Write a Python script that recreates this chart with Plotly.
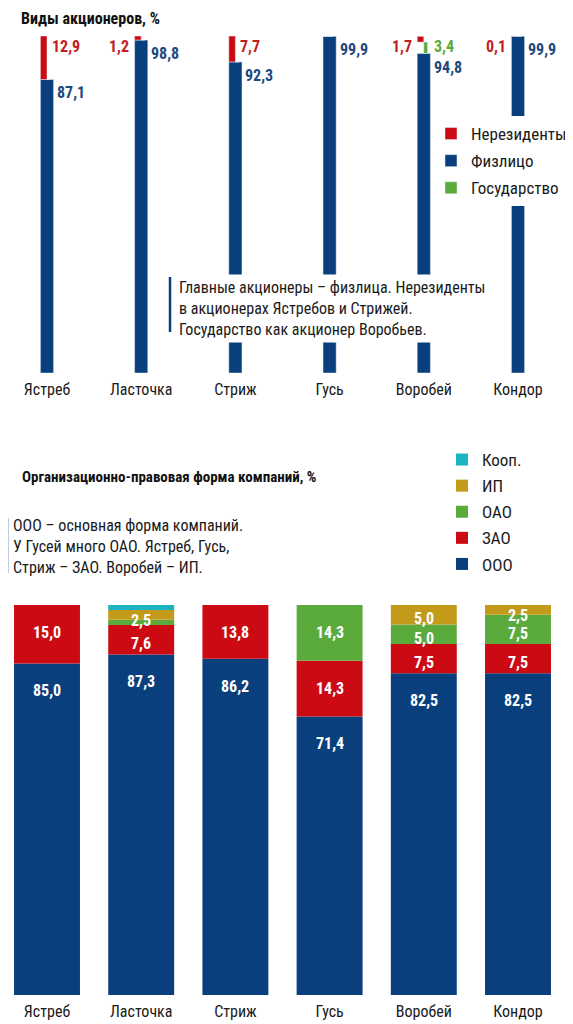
import plotly.graph_objects as go

birds = ["Ястреб", "Ласточка", "Стриж", "Гусь", "Воробей", "Кондор"]

# Виды акционеров, %
nonres = [12.9, 1.2, 7.7, 0, 1.7, 0.1]
fiz = [87.1, 98.8, 92.3, 99.9, 94.8, 99.9]
gov = [0, 0, 0, 0, 3.4, 0]

# Организационно-правовая форма компаний, %
ooo = [85.0, 87.3, 86.2, 71.4, 82.5, 82.5]
zao = [15.0, 7.6, 13.8, 14.3, 7.5, 7.5]
oao = [0, 1.3, 0, 14.3, 5.0, 7.5]
ip = [0, 2.5, 0, 0, 5.0, 2.5]
coop = [0, 1.3, 0, 0, 0, 0]

BLUE = "#0a3f7d"
RED = "#cc0a14"
GREEN = "#5aab3c"
GOLD = "#c49a1a"
CYAN = "#1db4c2"
FONT = "Roboto Condensed, Roboto, sans-serif"

# страница сдвигает рисунок на 8px (отступ body), поэтому считаем от экрана
OFF = 8
W, H = 573 - OFF, 1024 - OFF


def px(x, y):
    return (x - OFF) / W, 1 - (y - OFF) / H


def fmt(v):
    return f"{v:.1f}".replace(".", ",")


fig = go.Figure()

# ---- верхний график: виды акционеров
fig.add_trace(go.Bar(x=birds, y=fiz, width=0.14, offset=-0.07, marker_color=BLUE,
                     name="Физлицо", legend="legend", legendrank=2, legendgroup="fiz",
                     xaxis="x", yaxis="y"))
fig.add_trace(go.Bar(x=birds, y=nonres, base=[f + g for f, g in zip(fiz, gov)],
                     width=0.07, offset=-0.07, marker_color=RED,
                     name="Нерезиденты", legend="legend", legendrank=1, legendgroup="nonres",
                     xaxis="x", yaxis="y"))
fig.add_trace(go.Bar(x=birds, y=gov, base=fiz, width=0.04, offset=0,
                     marker_color=GREEN, name="Государство", legend="legend",
                     legendrank=3, legendgroup="gov", xaxis="x", yaxis="y"))

# ---- нижний график: организационно-правовая форма
forms = [("ООО", ooo, BLUE), ("ЗАО", zao, RED), ("ОАО", oao, GREEN),
         ("ИП", ip, GOLD), ("Кооп.", coop, CYAN)]
base = [0.0] * len(birds)
ann = []
for k, (name, vals, col) in enumerate(forms):
    fig.add_trace(go.Bar(x=birds, y=vals, base=base[:], width=0.7, marker_color=col,
                         marker_line_width=0, name=name, legend="legend2", legendgroup=name,
                         legendrank=len(forms) - k, xaxis="x2", yaxis="y2"))
    for i, v in enumerate(vals):
        if v >= 2:
            top = base[i] + v
            ann.append(dict(x=birds[i], y=top - max(min(v / 2 + 1, 7), 2.8),
                            xref="x2", yref="y2",
                            text=f"<b>{fmt(v)}</b>", showarrow=False,
                            font=dict(family=FONT, size=16, color="white")))
    base = [b + v for b, v in zip(base, vals)]

# подписи верхнего графика
for i, b in enumerate(birds):
    total = fiz[i] + gov[i] + nonres[i]
    ann.append(dict(x=b, y=fiz[i], xref="x", yref="y", text=f"<b>{fmt(fiz[i])}</b>",
                    showarrow=False, xanchor="left", yanchor="top", xshift=8, yshift=-2,
                    font=dict(family=FONT, size=16, color="#1d4a7e")))
    if nonres[i] > 0:
        right = nonres[i] >= 5
        ann.append(dict(x=b, y=total, xref="x", yref="y", text=f"<b>{fmt(nonres[i])}</b>",
                        showarrow=False, xanchor="left" if right else "right",
                        yanchor="top", xshift=3 if right else -10, yshift=1,
                        font=dict(family=FONT, size=16, color="#c41c24")))
    if gov[i] > 0:
        ann.append(dict(x=b, y=total, xref="x", yref="y",
                        text=f"<b>{fmt(gov[i])}</b>", showarrow=False,
                        xanchor="left", yanchor="top", xshift=8, yshift=1,
                        font=dict(family=FONT, size=16, color=GREEN)))

# заголовки и пояснения
x0, _ = px(20, 0)
ann.append(dict(x=x0, y=1, xref="paper", yref="paper", xanchor="left", yanchor="top",
                text="<b>Виды акционеров, %</b>", showarrow=False, borderpad=0,
                font=dict(family=FONT, size=16, color="#111")))
x0, y0 = px(20, 477)
ann.append(dict(x=x0, y=y0, xref="paper", yref="paper", xanchor="left", yanchor="middle",
                text="<b>Организационно-правовая форма компаний, %</b>", showarrow=False,
                font=dict(family=FONT, size=15, color="#111")))
x0, y0 = px(175, 274)
ann.append(dict(x=x0, y=y0, xref="paper", yref="paper", xanchor="left", yanchor="top",
                align="left", showarrow=False, bgcolor="white", borderpad=3,
                text="Главные акционеры – физлица. Нерезиденты<br>"
                     "в акционерах Ястребов и Стрижей.<br>"
                     "Государство как акционер Воробьев.",
                font=dict(family=FONT, size=16, color="#1a1a1a")))
x0, y0 = px(11, 514)
ann.append(dict(x=x0, y=y0, xref="paper", yref="paper", xanchor="left", yanchor="top",
                align="left", showarrow=False,
                text="ООО – основная форма компаний.<br>"
                     "У Гусей много ОАО. Ястреб, Гусь,<br>"
                     "Стриж – ЗАО. Воробей – ИП.",
                font=dict(family=FONT, size=16, color="#1a1a1a")))

lx, ly0 = px(170, 277)
_, ly1 = px(170, 332)
bx, by0 = px(7, 518)
_, by1 = px(7, 573)
shapes = [
    dict(type="line", xref="paper", yref="paper", x0=lx, x1=lx, y0=ly0, y1=ly1,
         line=dict(color=BLUE, width=2.5), layer="above"),
    dict(type="line", xref="paper", yref="paper", x0=bx, x1=bx, y0=by0, y1=by1,
         line=dict(color=BLUE, width=2.5), layer="above"),
]

# центры столбиков на экране: 47 ... 518, шаг ~94.2 px
step = (518 - 47) / 5
xrange = [-(47 - OFF) / step, 5 + (573 - 518) / step]
axis_common = dict(showgrid=False, zeroline=False, showline=False, ticks="outside",
                   ticklen=2, tickcolor="white", range=xrange, domain=[0, 1],
                   tickfont=dict(family=FONT, size=16, color="#1a1a1a"))
lg1x, lg1y = px(431, 116)
lg2x, lg2y = px(442, 442)
fig.update_layout(
    width=W, height=H, margin=dict(l=0, r=0, t=0, b=0),
    paper_bgcolor="white", plot_bgcolor="white",
    barmode="overlay", showlegend=True,
    xaxis=dict(anchor="y", **axis_common),
    yaxis=dict(domain=[px(0, 373)[1], px(0, 36)[1]], range=[0, 100], visible=False),
    xaxis2=dict(anchor="y2", **axis_common),
    yaxis2=dict(domain=[px(0, 995)[1], px(0, 605)[1]], range=[0, 100], visible=False),
    legend=dict(x=lg1x, y=lg1y, xanchor="left", yanchor="top", tracegroupgap=2,
                traceorder="grouped", bgcolor="white",
                font=dict(family=FONT, size=17, color="#1a1a1a")),
    legend2=dict(x=lg2x, y=lg2y, xanchor="left", yanchor="top", tracegroupgap=1,
                 traceorder="grouped", bgcolor="rgba(0,0,0,0)",
                 font=dict(family=FONT, size=17, color="#1a1a1a")),
    annotations=ann, shapes=shapes,
)

fig.write_html("out.html")
